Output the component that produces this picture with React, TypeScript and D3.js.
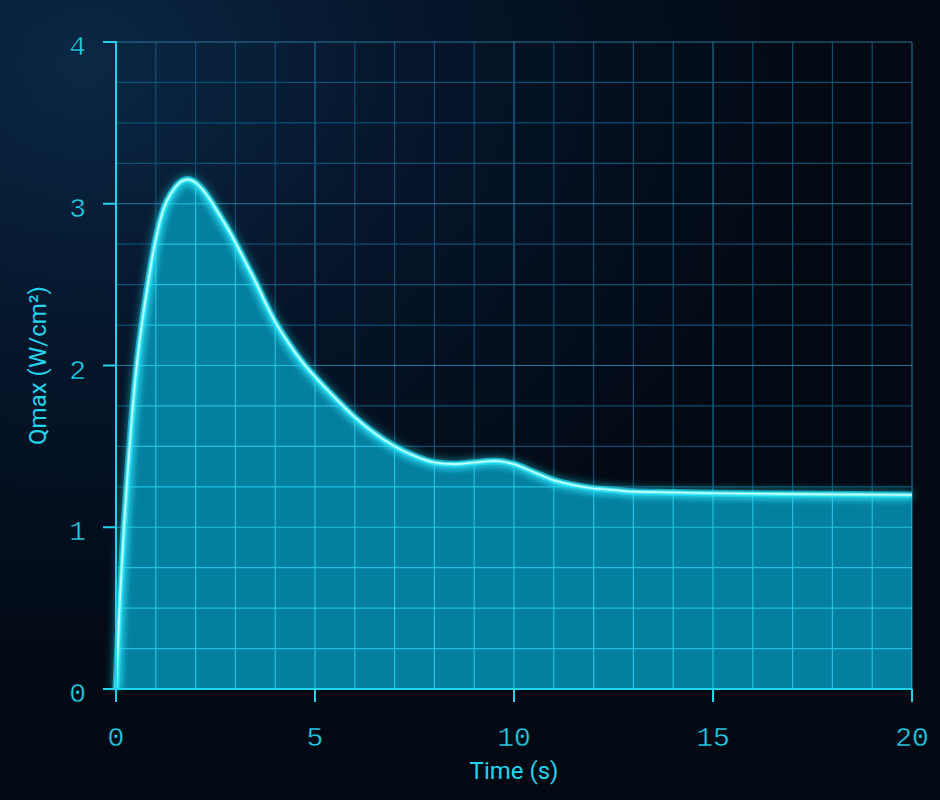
import React from 'react';
import * as d3 from 'd3';

const times = [0, 0.1, 0.2, 0.3, 0.4, 0.5, 0.6, 0.7, 0.8, 0.9, 1.0, 1.2, 1.4, 1.6, 1.8, 2.0, 2.2, 2.4, 2.6, 2.8, 3.0, 3.25, 3.5, 3.75, 4.0, 4.25, 4.5, 4.75, 5, 5.5, 6, 6.5, 7, 7.5, 8, 8.5, 9, 9.5, 10, 10.5, 11, 11.5, 12, 12.5, 13, 14, 15, 17, 20];
const qmax = [0, 0.56, 1.0, 1.36, 1.68, 1.95, 2.16, 2.34, 2.5, 2.65, 2.78, 2.97, 3.07, 3.13, 3.15, 3.13, 3.08, 3.01, 2.93, 2.85, 2.76, 2.64, 2.52, 2.39, 2.27, 2.17, 2.08, 2.0, 1.93, 1.8, 1.68, 1.58, 1.5, 1.44, 1.4, 1.39, 1.4, 1.41, 1.39, 1.34, 1.29, 1.26, 1.24, 1.23, 1.22, 1.215, 1.21, 1.205, 1.2];
const xTicks = [0, 5, 10, 15, 20];
const yTicks = [0, 1, 2, 3, 4];
const xTitle = 'Time (s)';
const yTitle = 'Qmax (W/cm²)';

const W = 940;
const H = 800;
const m = { left: 116, right: 28, top: 42, bottom: 111 };

type Pt = { t: number; q: number };

export default function App() {
  const data: Pt[] = times.map((t, i) => ({ t, q: qmax[i] }));
  const x = d3.scaleLinear().domain([0, 20]).range([m.left, W - m.right]);
  const y = d3.scaleLinear().domain([0, 4]).range([H - m.bottom, m.top]);

  const curve = d3.curveMonotoneX;
  const area = d3.area<Pt>().x(d => x(d.t)).y0(y(0)).y1(d => y(d.q)).curve(curve);
  const line = d3.line<Pt>().x(d => x(d.t)).y(d => y(d.q)).curve(curve);
  const areaPath = area(data) || '';
  const linePath = line(data) || '';

  const vGrid = d3.range(0, 21, 1);
  const hGrid = d3.range(0, 4.001, 0.25);

  const gridLines = (bright: boolean) => (
    <g>
      {vGrid.map(v => {
        const major = v % 5 === 0;
        return (
          <line key={'v' + v} x1={x(v)} x2={x(v)} y1={y(0)} y2={y(4)}
            stroke={bright ? '#22c8e8' : major ? '#1679a3' : '#0c557a'}
            strokeOpacity={0.9} strokeWidth={1.2} />
        );
      })}
      {hGrid.map(v => {
        const major = Math.abs(v - Math.round(v)) < 1e-6;
        return (
          <line key={'h' + v} x1={x(0)} x2={x(20)} y1={y(v)} y2={y(v)}
            stroke={bright ? '#22c8e8' : major ? '#2a82a4' : '#0c557a'}
            strokeOpacity={0.9} strokeWidth={1.2} />
        );
      })}
    </g>
  );

  const mono = '"Liberation Mono", "DejaVu Sans Mono", monospace';
  const sans = 'Roboto, "Noto Sans", sans-serif';
  const cyan = '#22d3ee';
  const bgDark = '#030b16';

  return (
    <svg width={W} height={H} style={{ position: 'absolute', left: 0, top: 0, display: 'block' }}>
      <defs>
        <radialGradient id="bg" cx="9%" cy="8%" r="80%">
          <stop offset="0%" stopColor="#0b2845" />
          <stop offset="45%" stopColor="#05152a" />
          <stop offset="100%" stopColor="#020912" />
        </radialGradient>
        <clipPath id="areaClip">
          <path d={areaPath} />
        </clipPath>
        <filter id="glow" x="-10%" y="-10%" width="120%" height="120%">
          <feGaussianBlur stdDeviation="4.5" result="b" />
          <feMerge>
            <feMergeNode in="b" />
            <feMergeNode in="SourceGraphic" />
          </feMerge>
        </filter>
        <filter id="softGlow" x="-10%" y="-10%" width="120%" height="120%">
          <feGaussianBlur stdDeviation="2" />
        </filter>
      </defs>

      <rect x={0} y={0} width={W} height={H} fill="url(#bg)" />

      {gridLines(false)}

      <path d={areaPath} fill="#057f9f" />
      <g clipPath="url(#areaClip)">
        {gridLines(true)}
        <path d={linePath} fill="none" stroke="#3fe6ff" strokeOpacity={0.35} strokeWidth={14} filter="url(#softGlow)" />
      </g>

      <path d={linePath} fill="none" stroke="#22e4f7" strokeWidth={7} strokeOpacity={0.6} filter="url(#glow)" />
      <path d={linePath} fill="none" stroke="#4beeff" strokeWidth={3.8} />
      <path d={linePath} fill="none" stroke="#c8feff" strokeWidth={1.6} />

      {/* axes */}
      <line x1={x(0)} x2={x(0)} y1={y(4) - 1} y2={y(0)} stroke={cyan} strokeWidth={2} />
      <line x1={x(0) - 13} x2={x(20)} y1={y(0)} y2={y(0)} stroke={cyan} strokeWidth={2} />
      {yTicks.map(v => (
        <g key={'yt' + v}>
          <line x1={x(0) - 13} x2={x(0)} y1={y(v)} y2={y(v)} stroke={cyan} strokeWidth={2} />
          <text x={x(0) - 30} y={y(v) + 13} textAnchor="end" fontFamily={mono} fontSize={28}
            fill={cyan} stroke={bgDark} strokeWidth={0.5}>{v}</text>
        </g>
      ))}
      {xTicks.map(v => (
        <g key={'xt' + v}>
          <line x1={x(v)} x2={x(v)} y1={y(0)} y2={y(0) + 13} stroke={cyan} strokeWidth={2} />
          <text x={x(v)} y={y(0) + 57} textAnchor="middle" fontFamily={mono} fontSize={28}
            fill={cyan} stroke={bgDark} strokeWidth={0.5}>{v}</text>
        </g>
      ))}

      <text x={(x(0) + x(20)) / 2} y={779} textAnchor="middle" fontFamily={sans} fontSize={24} fill={cyan}>{xTitle}</text>
      <text transform={`translate(46, ${(y(0) + y(4)) / 2}) rotate(-90)`} textAnchor="middle" fontFamily={sans} fontSize={24} fill={cyan}>{yTitle}</text>
    </svg>
  );
}
